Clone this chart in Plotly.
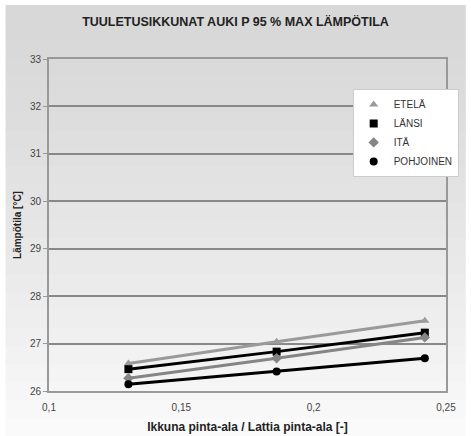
import plotly.graph_objects as go

x_vals = [0.130, 0.186, 0.242]
etela = [26.58, 27.04, 27.48]
lansi = [26.46, 26.83, 27.23]
ita = [26.27, 26.69, 27.13]
pohjoinen = [26.14, 26.41, 26.69]

series = [
    ("ETELÄ", etela, "#9a9a9a", "triangle-up"),
    ("LÄNSI", lansi, "#000000", "square"),
    ("ITÄ", ita, "#858585", "diamond"),
    ("POHJOINEN", pohjoinen, "#000000", "circle"),
]

W, H = 471, 436
ML, MR, MT, MB = 49, 20, 59, 45
PW, PH = W - ML - MR, H - MT - MB

fig = go.Figure()
for name, ys, col, sym in series:
    fig.add_trace(go.Scatter(
        x=x_vals, y=ys, name=name, mode="lines", showlegend=False,
        line=dict(color=col, width=3), legendgroup=name,
    ))
for name, ys, col, sym in series:
    fig.add_trace(go.Scatter(
        x=x_vals, y=ys, name=name, mode="markers", legendgroup=name,
        marker=dict(symbol=sym, size=8, color=col),
    ))

# background vertical gradient (decorative)
shapes = []
n = 24
top_px, bot_px = 5, H
left_px = 5
c0, c1 = 216, 250
for i in range(n):
    y0px = top_px + (bot_px - top_px) * i / n
    y1px = top_px + (bot_px - top_px) * (i + 1) / n + 1
    t = i / (n - 1)
    c = int(c0 + (c1 - c0) * t ** 1.3)
    shapes.append(dict(
        type="rect", xref="paper", yref="paper", layer="below",
        x0=(left_px - ML) / PW, x1=(W - ML) / PW,
        y0=1 - (y1px - MT) / PH, y1=1 - (y0px - MT) / PH,
        fillcolor=f"rgb({c},{c},{c})", line=dict(width=0),
    ))

fig.update_layout(
    width=W, height=H,
    margin=dict(l=ML, r=MR, t=MT, b=MB),
    paper_bgcolor="#ffffff",
    plot_bgcolor="#ffffff",
    shapes=shapes,
    separators=", ",
    font=dict(family="Liberation Sans, Arial, sans-serif", size=10, color="#444444"),
    title=dict(text="<b>TUULETUSIKKUNAT AUKI P 95 % MAX LÄMPÖTILA</b>",
               x=0.5, xanchor="center", y=0.95, yanchor="middle",
               font=dict(size=12.5, color="#222222")),
    showlegend=True,
    legend=dict(x=0.765, y=0.91, xanchor="left", yanchor="top",
                bgcolor="#ffffff", bordercolor="#cccccc", borderwidth=1,
                font=dict(size=10, color="#333333"),
                itemwidth=30, tracegroupgap=0),
    xaxis=dict(range=[0.1, 0.25], dtick=0.05, tick0=0.1, showgrid=False,
               showline=True, linecolor="#999999", linewidth=2, mirror=True,
               ticks="", zeroline=False, ticklabelstandoff=6, automargin=False,
               title=dict(text="<b>Ikkuna pinta-ala / Lattia pinta-ala [-]</b>",
                          font=dict(size=12, color="#222222"), standoff=11)),
    yaxis=dict(range=[26, 33], dtick=1, showgrid=True, gridcolor="#888888", gridwidth=1.5,
               showline=True, linecolor="#999999", linewidth=2, mirror=True,
               ticks="outside", ticklen=4, tickcolor="#999999", zeroline=False,
               automargin=False,
               title=dict(text="<b>Lämpötila [°C]</b>",
                          font=dict(size=10, color="#222222"), standoff=6)),
)

fig.write_html("out.html")
